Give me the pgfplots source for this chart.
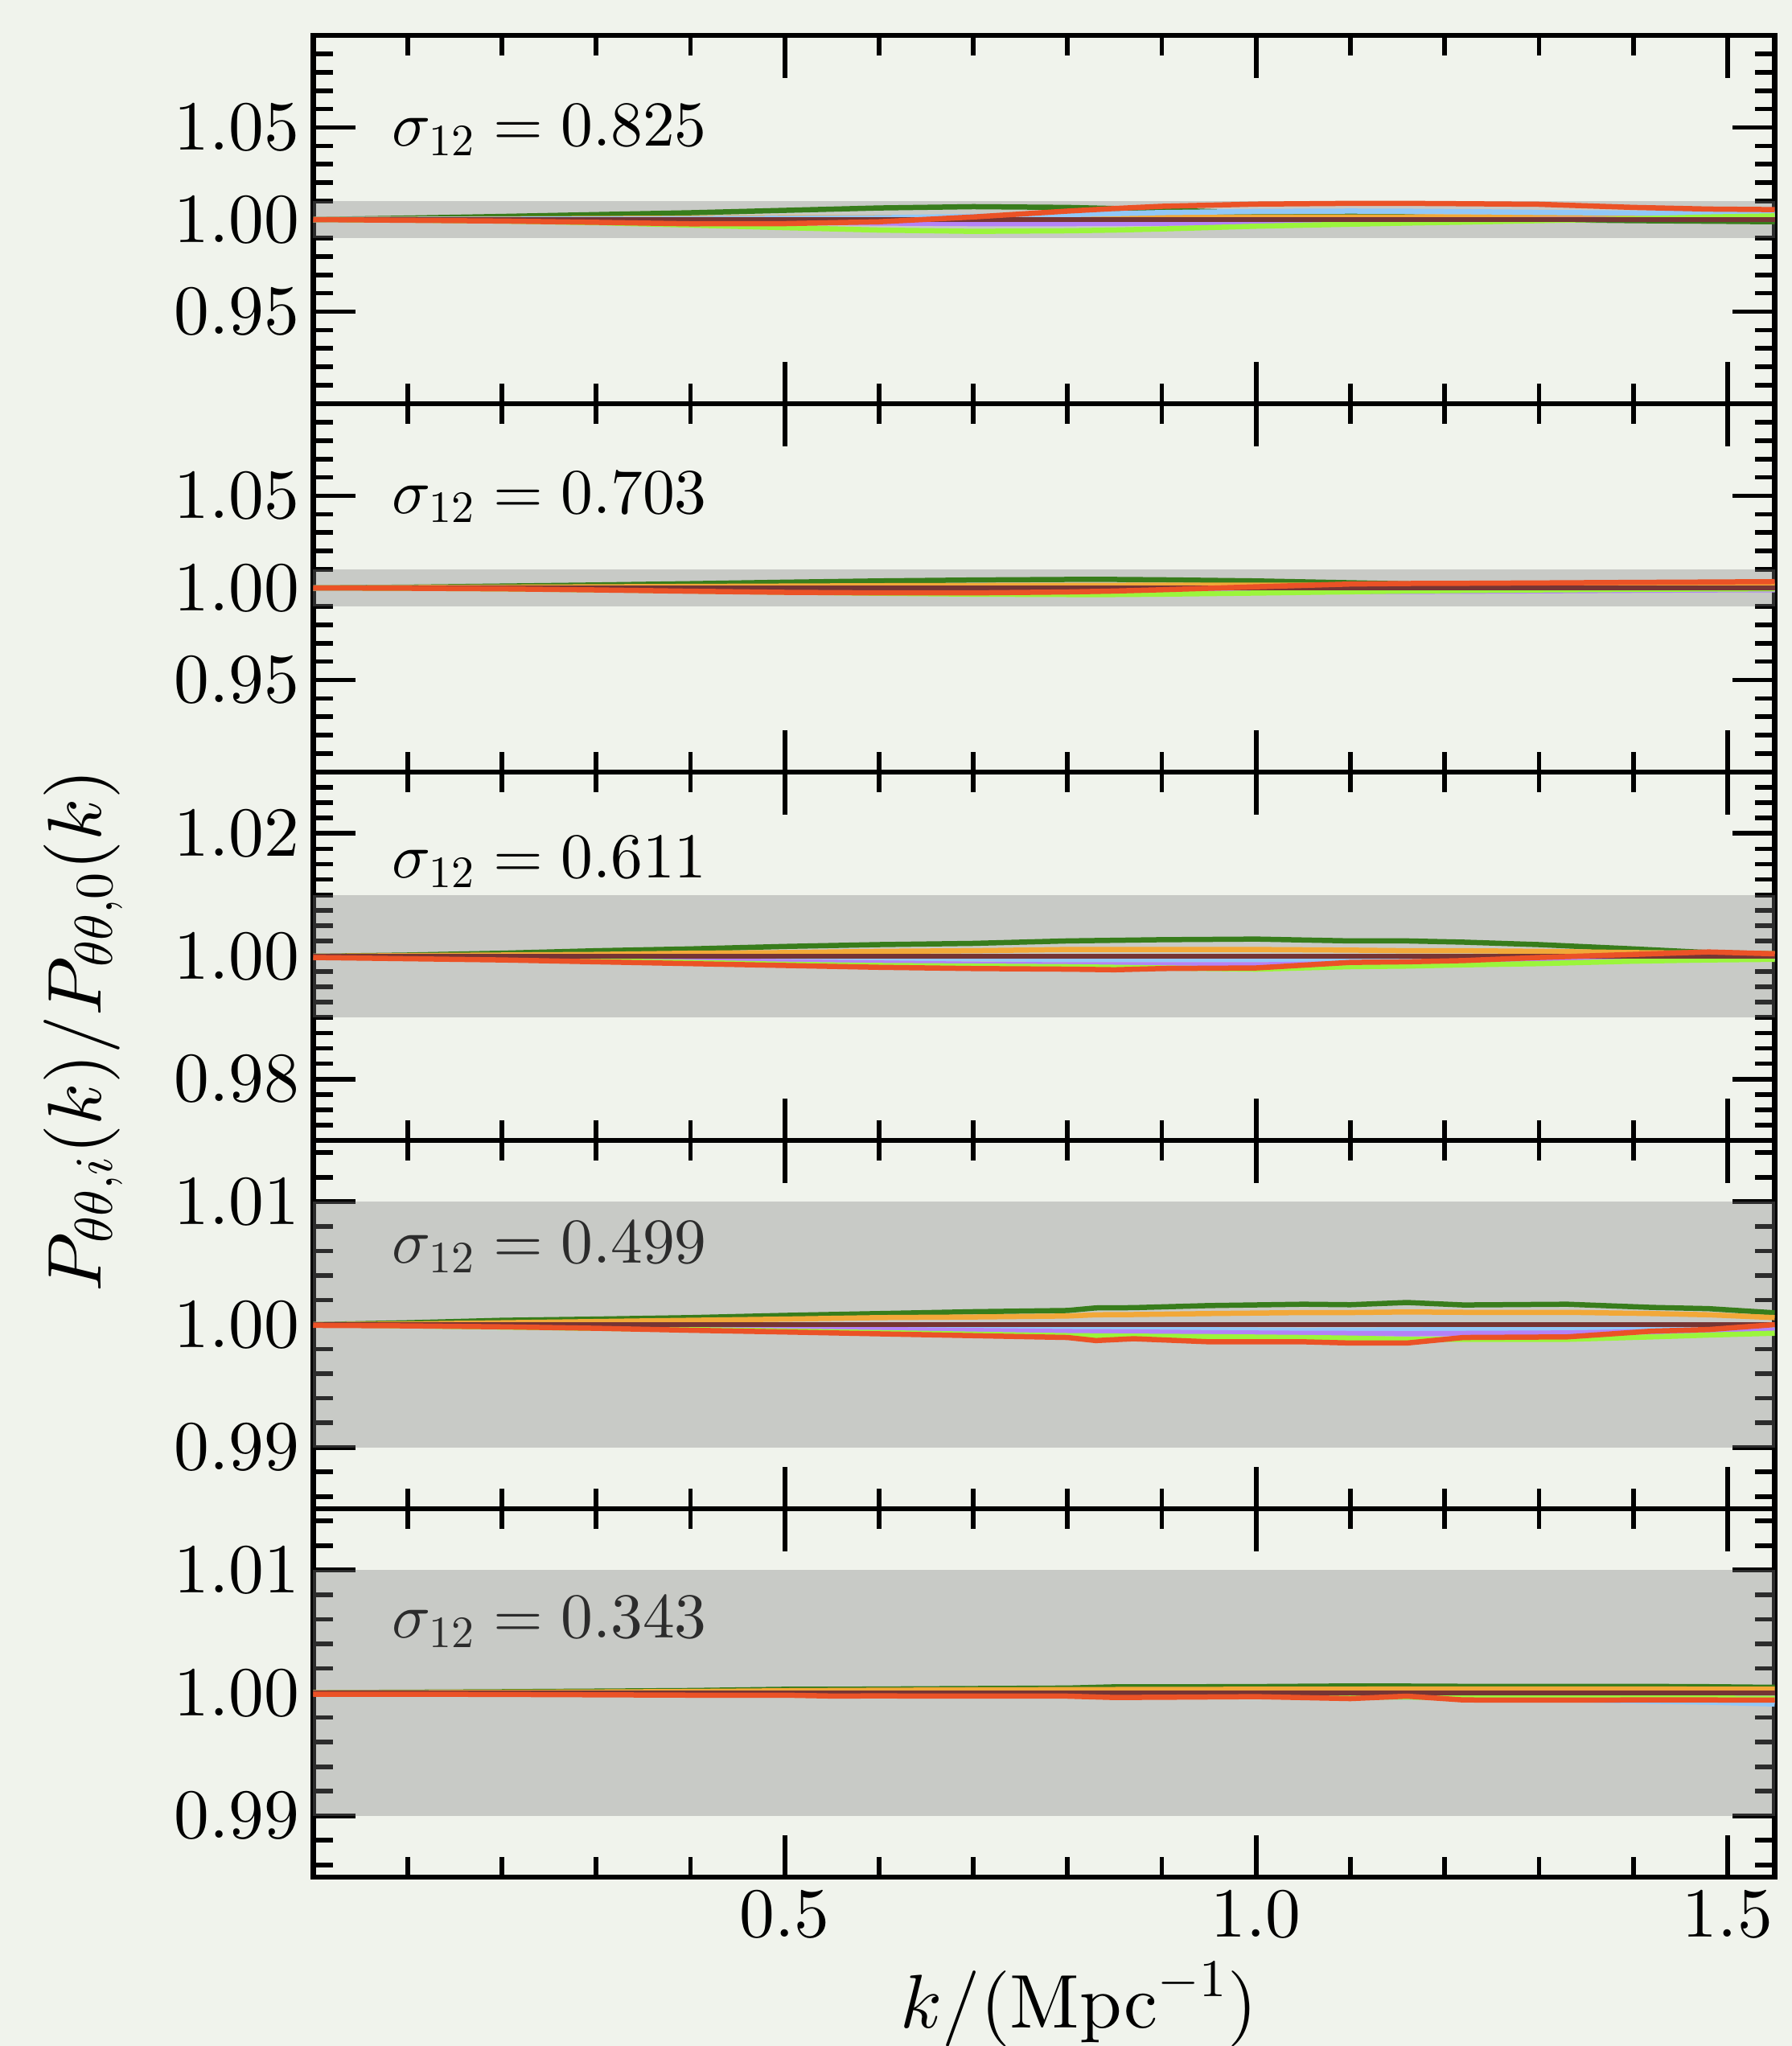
\documentclass[border=0pt]{standalone}
\usepackage{pgfplots}
\usepackage{pgfplotstable}
\pgfplotsset{compat=1.18}

% Computer Modern at its 10pt design, scaled to any size
\DeclareFontShape{OT1}{cmr}{m}{n}{<->cmr10}{}
\DeclareFontShape{OML}{cmm}{m}{it}{<->cmmi10}{}
\DeclareFontShape{OMS}{cmsy}{m}{n}{<->cmsy10}{}

\definecolor{bgc}{RGB}{240,243,236}
\definecolor{cg}{RGB}{56,125,28}
\definecolor{co}{RGB}{242,168,56}
\definecolor{cb}{RGB}{145,200,248}
\definecolor{cp}{RGB}{180,130,248}
\definecolor{cy}{RGB}{155,245,60}
\definecolor{cw}{RGB}{118,53,52}
\definecolor{cr}{RGB}{235,82,38}

% sigma12 = 0.825
\pgfplotstableread{
k     g       o       b       p       y       r
0     1.0000  1.0000  1.0000  1.0000  1.0000  1.0000
0.1   1.0008  1.0002  1.0001  0.9999  0.9997  0.9996
0.2   1.0017  1.0004  1.0002  0.9998  0.9992  0.9992
0.3   1.0027  1.0006  1.0003  0.9995  0.9983  0.9985
0.4   1.0037  1.0008  1.0005  0.9991  0.9970  0.9977
0.5   1.0050  1.0010  1.0007  0.9986  0.9956  0.9978
0.6   1.0063  1.0011  1.0010  0.9981  0.9943  0.9988
0.7   1.0070  1.0012  1.0017  0.9978  0.9936  1.0014
0.8   1.0066  1.0012  1.0027  0.9978  0.9939  1.0046
0.85  1.0060  1.0013  1.0032  0.9979  0.9943  1.0060
0.9   1.0052  1.0013  1.0038  0.9980  0.9949  1.0072
1.0   1.0036  1.0014  1.0044  0.9985  0.9964  1.0084
1.1   1.0022  1.0014  1.0046  0.9991  0.9975  1.0088
1.16  1.0015  1.0014  1.0045  0.9994  0.9981  1.0088
1.22  1.0009  1.0015  1.0043  0.9997  0.9986  1.0086
1.3   1.0000  1.0016  1.0039  1.0000  0.9994  1.0083
1.4   0.9994  1.0018  1.0035  1.0002  1.0004  1.0066
1.48  0.9991  1.0020  1.0033  1.0003  1.0014  1.0057
1.55  0.9988  1.0022  1.0032  1.0004  1.0020  1.0054
}\tabA

% sigma12 = 0.703
\pgfplotstableread{
k     g       o       b       p       y       r
0     1.0000  1.0000  1.0000  1.0000  1.0000  1.0000
0.1   1.0004  1.0002  1.0000  0.9999  0.9998  0.9998
0.2   1.0010  1.0004  0.9999  0.9997  0.9995  0.9995
0.3   1.0016  1.0006  0.9998  0.9995  0.9990  0.9989
0.4   1.0023  1.0008  0.9997  0.9993  0.9984  0.9982
0.5   1.0031  1.0010  0.9996  0.9990  0.9977  0.9976
0.6   1.0038  1.0012  0.9995  0.9988  0.9971  0.9973
0.7   1.0043  1.0013  0.9994  0.9985  0.9966  0.9973
0.8   1.0046  1.0014  0.9993  0.9983  0.9964  0.9978
0.85  1.0046  1.0014  0.9992  0.9982  0.9964  0.9983
0.9   1.0044  1.0015  0.9992  0.9981  0.9966  0.9990
1.0   1.0038  1.0015  0.9991  0.9980  0.9972  1.0006
1.1   1.0028  1.0015  0.9991  0.9980  0.9979  1.0021
1.16  1.0022  1.0015  0.9991  0.9981  0.9983  1.0024
1.22  1.0018  1.0015  0.9992  0.9982  0.9986  1.0025
1.3   1.0015  1.0014  0.9992  0.9984  0.9989  1.0027
1.4   1.0012  1.0014  0.9993  0.9987  0.9992  1.0030
1.48  1.0011  1.0014  0.9994  0.9989  0.9994  1.0032
1.55  1.0010  1.0014  0.9994  0.9990  0.9995  1.0034
}\tabB

% sigma12 = 0.611
\pgfplotstableread{
k     g       o       b       p       y       r
0     1.0000  1.0000  1.0000  1.0000  1.0000  0.9998
0.1   1.0002  1.0001  0.9999  0.9999  0.9998  0.9996
0.2   1.0005  1.0002  0.9999  0.9997  0.9996  0.9994
0.3   1.0009  1.0003  0.9998  0.9995  0.9993  0.9991
0.4   1.0012  1.0005  0.9998  0.9993  0.9990  0.9988
0.5   1.0016  1.0006  0.9997  0.9991  0.9987  0.9985
0.6   1.0019  1.0008  0.9996  0.9989  0.9985  0.9982
0.7   1.0021  1.0009  0.9996  0.9987  0.9984  0.9980
0.8   1.0025  1.0011  0.9995  0.9986  0.9983  0.9979
0.85  1.0026  1.0011  0.9995  0.9986  0.9982  0.9978
0.9   1.0027  1.0011  0.9995  0.9986  0.9981  0.9980
1.0   1.0028  1.0011  0.9995  0.9986  0.9979  0.9981
1.1   1.0025  1.0010  0.9995  0.9988  0.9983  0.9990
1.16  1.0025  1.0009  0.9996  0.9989  0.9984  0.9991
1.22  1.0023  1.0009  0.9996  0.9990  0.9986  0.9993
1.3   1.0019  1.0008  0.9996  0.9992  0.9988  0.9998
1.4   1.0012  1.0006  0.9997  0.9994  0.9992  1.0003
1.48  1.0006  1.0005  0.9998  0.9996  0.9994  1.0007
1.55  1.0004  1.0004  0.9998  0.9997  0.9995  1.0004
}\tabC

% sigma12 = 0.499
\pgfplotstableread{
k     g        o        b        p        y        r
0     1.00000  1.00000  1.00000  1.00000  1.00000  0.99994
0.1   1.00015  1.00005  0.99997  0.99995  0.99990  0.99990
0.2   1.00035  1.00015  0.99995  0.99990  0.99980  0.99982
0.3   1.00045  1.00025  0.99992  0.99983  0.99970  0.99970
0.4   1.00057  1.00035  0.99990  0.99976  0.99960  0.99954
0.5   1.00075  1.00045  0.99985  0.99968  0.99948  0.99940
0.6   1.00090  1.00057  0.99980  0.99960  0.99935  0.99925
0.7   1.00105  1.00062  0.99972  0.99952  0.99922  0.99910
0.8   1.00115  1.00070  0.99965  0.99943  0.99910  0.99895
0.83  1.00136  1.00080  0.99964  0.99942  0.99908  0.99870
0.87  1.00138  1.00082  0.99962  0.99940  0.99906  0.99885
0.95  1.00155  1.00090  0.99958  0.99934  0.99902  0.99860
1.05  1.00166  1.00098  0.99954  0.99929  0.99895  0.99860
1.1   1.00162  1.00098  0.99955  0.99928  0.99890  0.99850
1.16  1.00180  1.00103  0.99957  0.99926  0.99880  0.99850
1.22  1.00160  1.00100  0.99959  0.99928  0.99880  0.99895
1.33  1.00166  1.00100  0.99960  0.99932  0.99880  0.99900
1.42  1.00140  1.00090  0.99960  0.99943  0.99900  0.99947
1.48  1.00130  1.00080  0.99965  0.99950  0.99915  0.99960
1.55  1.00096  1.00057  0.99975  0.99954  0.99930  1.00000
}\tabD

% sigma12 = 0.343
\pgfplotstableread{
k     g        o        b        p        y        r
0     1.00003  1.00002  1.00000  1.00000  1.00000  0.99990
0.1   1.00006  1.00003  0.99999  0.99998  0.99997  0.99990
0.2   1.00010  1.00005  0.99998  0.99996  0.99995  0.99988
0.3   1.00015  1.00008  0.99996  0.99994  0.99993  0.99985
0.4   1.00020  1.00012  0.99994  0.99992  0.99990  0.99982
0.5   1.00030  1.00018  0.99991  0.99990  0.99987  0.99982
0.55  1.00030  1.00020  0.99990  0.99989  0.99986  0.99975
0.6   1.00032  1.00022  0.99989  0.99988  0.99985  0.99976
0.7   1.00036  1.00025  0.99987  0.99985  0.99982  0.99974
0.8   1.00040  1.00027  0.99984  0.99982  0.99980  0.99974
0.85  1.00050  1.00028  0.99982  0.99980  0.99978  0.99963
0.9   1.00050  1.00029  0.99980  0.99978  0.99976  0.99965
1.0   1.00052  1.00030  0.99977  0.99974  0.99972  0.99970
1.1   1.00057  1.00031  0.99970  0.99970  0.99968  0.99954
1.16  1.00056  1.00032  0.99965  0.99968  0.99966  0.99974
1.22  1.00054  1.00032  0.99960  0.99966  0.99964  0.99943
1.3   1.00053  1.00032  0.99950  0.99965  0.99962  0.99942
1.4   1.00054  1.00032  0.99935  0.99965  0.99960  0.99943
1.48  1.00051  1.00031  0.99925  0.99965  0.99958  0.99943
1.55  1.00046  1.00030  0.99910  0.99965  0.99957  0.99942
}\tabE

\pgfplotsset{
  panel/.style={
    scale only axis, width=363.4pt, height=91.6pt,
    xmin=0, xmax=1.55, clip=false,
    axis line style={line width=1.35pt},
    tick style={black, line width=1.15pt},
    major tick length=10.5pt, minor tick length=5pt,
    tick align=inside, xtick pos=both, ytick pos=both,
    xtick={0.5,1.0,1.5},
    minor xtick={0.1,0.2,0.3,0.4,0.6,0.7,0.8,0.9,1.1,1.2,1.3,1.4},
    xticklabels={},
    ticklabel style={font=\fontsize{17.5}{20}\selectfont},
    yticklabel style={/pgf/number format/fixed, /pgf/number format/fixed zerofill, /pgf/number format/precision=2},
    every axis plot/.append style={line width=1.3pt, line join=round},
  },
  wide/.style={ymin=0.9, ymax=1.1, ytick={0.95,1.00,1.05},
    minor ytick={0.91,0.92,0.93,0.94,0.96,0.97,0.98,0.99,1.01,1.02,1.03,1.04,1.06,1.07,1.08,1.09}},
  mid/.style={ymin=0.97, ymax=1.03, ytick={0.98,1.00,1.02},
    minor ytick={0.9725,0.975,0.9775,0.9825,0.985,0.9875,0.99,0.9925,0.995,0.9975,1.0025,1.005,1.0075,1.01,1.0125,1.015,1.0175,1.0225,1.025,1.0275}},
  narrow/.style={ymin=0.985, ymax=1.015, ytick={0.99,1.00,1.01},
    minor ytick={0.986,0.988,0.992,0.994,0.996,0.998,1.002,1.004,1.006,1.008,1.012,1.014}},
}

\newcommand{\sigmalabel}[2]{%
  \node[anchor=base west, inner sep=0pt, font=\fontsize{15.9}{18}\selectfont]
    at (rel axis cs:0.0536,#1) {$\sigma_{12} = #2$};}
\newcommand{\band}{%
  \addplot[draw=none, fill=gray, fill opacity=0.35, forget plot]
    coordinates {(0,0.99) (1.55,0.99) (1.55,1.01) (0,1.01)} -- cycle;}
\newcommand{\panellines}[1]{%
  \addplot[cg] table[x=k, y=g] {#1};
  \addplot[co] table[x=k, y=o] {#1};
  \addplot[cb] table[x=k, y=b] {#1};
  \addplot[cp] table[x=k, y=p] {#1};
  \addplot[cy] table[x=k, y=y] {#1};
  \addplot[cw] coordinates {(0,1) (1.55,1)};
  \addplot[cr] table[x=k, y=r] {#1};}

\begin{document}
\begin{tikzpicture}
\path[use as bounding box, fill=bgc] (-77.9pt,8.8pt) rectangle (367.6pt,-500pt);

\begin{axis}[panel, wide, at={(0pt,0pt)}, anchor=north west]
  \sigmalabel{0.699}{0.825}
  \band
  \panellines{\tabA}
\end{axis}

\begin{axis}[panel, wide, at={(0pt,-91.6pt)}, anchor=north west]
  \sigmalabel{0.703}{0.703}
  \band
  \panellines{\tabB}
\end{axis}

\begin{axis}[panel, mid, at={(0pt,-183.2pt)}, anchor=north west,
  ylabel={$P_{\theta\theta,i}(k)/P_{\theta\theta,0}(k)$},
  ylabel style={at={(axis description cs:-0.1574,0.298)}, anchor=center, font=\fontsize{18.9}{22}\selectfont}]
  \sigmalabel{0.713}{0.611}
  \band
  \panellines{\tabC}
\end{axis}

\begin{axis}[panel, narrow, at={(0pt,-274.8pt)}, anchor=north west]
  \sigmalabel{0.666}{0.499}
  \band
  \panellines{\tabD}
\end{axis}

\begin{axis}[panel, narrow, at={(0pt,-366.4pt)}, anchor=north west,
  xticklabels={$0.5$,$1.0$,$1.5$},
  xlabel={$k/(\mathrm{Mpc}^{-1})$},
  xlabel style={at={(axis description cs:0.524,-0.409)}, anchor=base, font=\fontsize{18.9}{22}\selectfont}]
  \sigmalabel{0.649}{0.343}
  \band
  \panellines{\tabE}
\end{axis}
\end{tikzpicture}
\end{document}
